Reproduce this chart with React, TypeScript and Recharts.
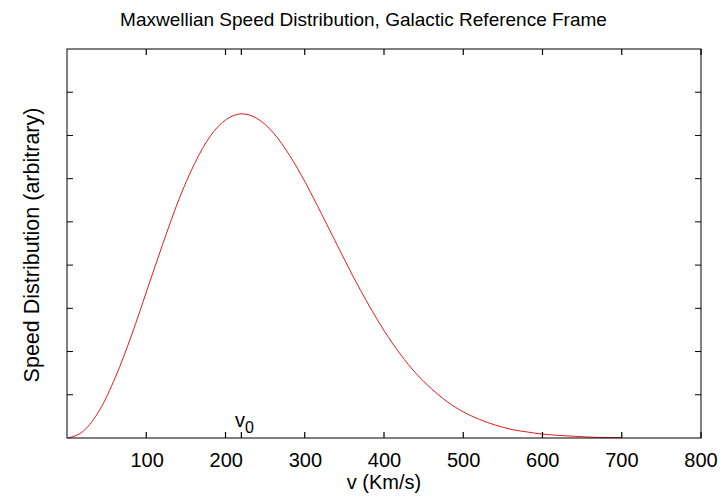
import { LineChart, Line, XAxis, YAxis } from "recharts";

// speed (km/s) and distribution value (arbitrary units)
const SPEEDS = [
  0, 20, 40, 60, 80, 100, 120, 140, 160, 180, 200, 220, 240, 260, 280, 300,
  320, 340, 360, 380, 400, 420, 440, 460, 480, 500, 520, 540, 560, 580, 600,
  620, 640, 660, 680, 700,
];
const DIST = [
  0, 0.17, 0.65, 1.41, 2.36, 3.43, 4.5, 5.51, 6.35, 6.99, 7.37, 7.5, 7.38,
  7.05, 6.54, 5.91, 5.2, 4.47, 3.75, 3.08, 2.47, 1.94, 1.49, 1.13, 0.83, 0.6,
  0.43, 0.3, 0.2, 0.14, 0.09, 0.06, 0.04, 0.02, 0.01, 0.01,
];
const X_TICKS = [100, 200, 220, 300, 400, 500, 600, 700, 800];
const Y_TICKS = [1, 2, 3, 4, 5, 6, 7, 8];
const V0 = 220;
const X_MAX = 800;
const Y_MAX = 9;

const W = 727;
const H = 499;
const LEFT = 67;
const RIGHT = 701;
const TOP = 49;
const BOTTOM = 438;
const TICK = 6;
const FONT = '"Liberation Sans", Arial, Helvetica, sans-serif';

const data = SPEEDS.map((v, i) => ({ v, f: DIST[i] }));

// pixel position of an x tick (same linear mapping the chart uses)
const xPx = (v: number) => LEFT + ((RIGHT - LEFT) * v) / X_MAX;

function XTick(props: any) {
  const { x, payload } = props;
  if (payload.value === V0) {
    return (
      <text x={x - 7} y={427} fontSize={20} fontFamily={FONT} fill="#000">
        v
        <tspan fontSize={16} dy={6}>
          0
        </tspan>
      </text>
    );
  }
  return (
    <text
      x={x}
      y={467}
      textAnchor="middle"
      fontSize={20}
      fontFamily={FONT}
      fill="#000"
    >
      {payload.value}
    </text>
  );
}

function YTick(props: any) {
  const { y } = props;
  return (
    <path
      d={`M${LEFT},${y}H${LEFT + TICK}M${RIGHT - TICK},${y}H${RIGHT}`}
      stroke="#000"
      strokeWidth={1}
      fill="none"
    />
  );
}

export default function App() {
  return (
    <div style={{ position: "relative", width: W, height: H, background: "#fff" }}>
      <style>{`body{margin:0}`}</style>
      <LineChart
        width={W}
        height={H}
        data={data}
        margin={{ top: TOP, right: W - RIGHT, bottom: 0, left: LEFT }}
      >
        <XAxis
          dataKey="v"
          type="number"
          domain={[0, X_MAX]}
          ticks={X_TICKS}
          interval={0}
          height={H - BOTTOM}
          axisLine={false}
          tickLine={false}
          tick={(p: any) => <XTick {...p} />}
        />
        <YAxis
          type="number"
          domain={[0, Y_MAX]}
          ticks={Y_TICKS}
          interval={0}
          width={1}
          axisLine={false}
          tickLine={false}
          tick={(p: any) => <YTick {...p} />}
        />
        <Line
          type="monotone"
          dataKey="f"
          stroke="#e41a1c"
          strokeWidth={1}
          dot={false}
          isAnimationActive={false}
        />
      </LineChart>
      <svg
        width={W}
        height={H}
        style={{ position: "absolute", left: 0, top: 0, pointerEvents: "none" }}
        fontFamily={FONT}
      >
        <rect
          x={LEFT}
          y={TOP}
          width={RIGHT - LEFT}
          height={BOTTOM - TOP}
          fill="none"
          stroke="#000"
        />
        {X_TICKS.map((t) => (
          <path
            key={t}
            d={`M${xPx(t)},${BOTTOM}V${BOTTOM - TICK}M${xPx(t)},${TOP}V${TOP + TICK}`}
            stroke="#000"
            strokeWidth={1.2}
            fill="none"
          />
        ))}
        <text x={363.5} y={26} textAnchor="middle" fontSize={19} fill="#000">
          Maxwellian Speed Distribution, Galactic Reference Frame
        </text>
        <text x={384} y={489} textAnchor="middle" fontSize={20} fill="#000">
          v (Km/s)
        </text>
        <text
          x={39}
          y={245}
          textAnchor="middle"
          fontSize={21.5}
          fill="#000"
          transform="rotate(-90 39 245)"
        >
          Speed Distribution (arbitrary)
        </text>
      </svg>
    </div>
  );
}
